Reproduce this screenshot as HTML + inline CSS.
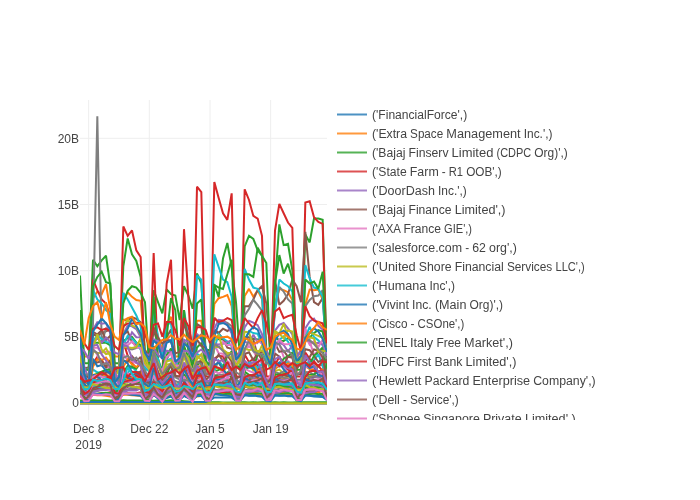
<!DOCTYPE html>
<html><head><meta charset="utf-8"><title>chart</title>
<style>html,body{margin:0;padding:0;background:#fff}svg{display:block}text{font-family:"Liberation Sans",sans-serif;font-size:12px;fill:#444}.l{fill:none;stroke-width:2;stroke-miterlimit:2}</style></head><body>
<svg width="700" height="500" viewBox="0 0 700 500">
<defs><clipPath id="cp"><rect x="80" y="100" width="247" height="320"/></clipPath><clipPath id="lg"><rect x="332" y="100" width="300" height="320"/></clipPath></defs>
<rect width="700" height="500" fill="#fff"/>
<path d="M88.67,100V420" stroke="#eee" stroke-width="1" fill="none"/>
<path d="M149.33,100V420" stroke="#eee" stroke-width="1" fill="none"/>
<path d="M210.00,100V420" stroke="#eee" stroke-width="1" fill="none"/>
<path d="M270.67,100V420" stroke="#eee" stroke-width="1" fill="none"/>
<path d="M80,336.90H327" stroke="#eee" stroke-width="1" fill="none"/>
<path d="M80,270.70H327" stroke="#eee" stroke-width="1" fill="none"/>
<path d="M80,204.50H327" stroke="#eee" stroke-width="1" fill="none"/>
<path d="M80,138.30H327" stroke="#eee" stroke-width="1" fill="none"/>
<path d="M80,403.10H327" stroke="#444" stroke-width="1" fill="none"/>
<g clip-path="url(#cp)">
<polyline class="l" stroke="#ff7f0e" points="80.00,330.01 84.33,356.56 88.67,356.56 93.00,298.17 97.33,291.53 101.67,294.19 106.00,284.23 110.33,310.11 114.67,356.56 119.00,356.56 123.33,299.49 127.67,292.20 132.00,296.84 136.33,300.02 140.67,300.82 145.00,349.92 149.33,356.56 153.67,316.75 158.00,336.65 162.33,349.92 166.67,323.38 171.00,316.75 175.33,356.56 179.67,356.56 184.00,316.75 188.33,336.65 192.67,349.92 197.00,320.73 201.33,320.73 205.67,356.56 210.00,356.56 214.33,304.01 218.67,298.17 223.00,296.84 227.33,294.98 231.67,306.13 236.00,352.57 240.33,355.23 244.67,296.04 249.00,288.88 253.33,296.84 257.67,290.20 262.00,298.96 266.33,352.57 270.67,355.23 275.00,303.48 279.33,288.88 283.67,290.20 288.00,292.20 292.33,300.02 296.67,352.57 301.00,355.23 305.33,304.80 309.67,289.54 314.00,290.20 318.33,289.54 322.67,299.49 327.00,334.00"/>
<polyline class="l" stroke="#2ca02c" points="80.00,275.61 84.33,363.19 88.67,363.19 93.00,259.68 97.33,266.32 101.67,260.35 106.00,255.70 110.33,286.22 114.67,363.19 119.00,363.19 123.33,266.32 127.67,238.45 132.00,254.38 136.33,261.01 140.67,276.94 145.00,356.56 149.33,356.56 153.67,290.20 158.00,302.15 162.33,313.43 166.67,289.54 171.00,294.19 175.33,295.51 179.67,320.06 184.00,286.22 188.33,295.51 192.67,308.78 197.00,273.48 201.33,283.57 205.67,349.92 210.00,349.92 214.33,284.90 218.67,296.84 223.00,258.36 227.33,242.96 231.67,267.65 236.00,302.15 240.33,363.19 244.67,246.41 249.00,235.80 253.33,238.98 257.67,250.40 262.00,255.70 266.33,349.92 270.67,363.19 275.00,283.57 279.33,224.39 283.67,245.09 288.00,243.76 292.33,270.30 296.67,363.19 301.00,363.19 305.33,234.47 309.67,242.43 314.00,218.55 318.33,218.55 322.67,219.87 327.00,363.19"/>
<polyline class="l" stroke="#d62728" points="80.00,331.34 84.33,376.46 88.67,376.46 93.00,279.59 97.33,290.20 101.67,299.49 106.00,303.48 110.33,316.75 114.67,376.46 119.00,376.46 123.33,226.51 127.67,235.80 132.00,230.49 136.33,250.40 140.67,257.03 145.00,376.46 149.33,376.46 153.67,253.05 158.00,363.19 162.33,373.81 166.67,283.57 171.00,259.68 175.33,376.46 179.67,376.46 184.00,229.16 188.33,296.84 192.67,376.46 197.00,186.70 201.33,192.01 205.67,376.46 210.00,376.46 214.33,182.05 218.67,197.98 223.00,213.24 227.33,219.87 231.67,193.33 236.00,376.46 240.33,376.46 244.67,189.35 249.00,199.97 253.33,215.89 257.67,218.55 262.00,235.80 266.33,376.46 270.67,376.46 275.00,230.49 279.33,203.95 283.67,213.24 288.00,222.53 292.33,227.84 296.67,376.46 301.00,376.46 305.33,202.62 309.67,201.30 314.00,217.22 318.33,221.86 322.67,223.86 327.00,376.46"/>
<polyline class="l" stroke="#8c564b" points="80.00,339.90 84.33,368.31 88.67,367.47 93.00,334.11 97.33,336.41 101.67,332.85 106.00,331.32 110.33,329.58 114.67,367.02 119.00,367.14 123.33,319.77 127.67,320.52 132.00,317.09 136.33,318.87 140.67,322.38 145.00,363.95 149.33,359.46 153.67,330.73 158.00,343.36 162.33,357.45 166.67,337.33 171.00,329.46 175.33,363.74 179.67,363.29 184.00,322.32 188.33,335.36 192.67,349.75 197.00,324.18 201.33,326.62 205.67,362.75 210.00,366.08 214.33,329.20 218.67,333.07 223.00,328.68 227.33,331.00 231.67,328.05 236.00,353.43 240.33,359.29 244.67,306.13 249.00,306.13 253.33,299.49 257.67,290.20 262.00,286.22 266.33,303.48 270.67,356.56 275.00,279.59 279.33,304.80 283.67,300.82 288.00,294.19 292.33,279.59 296.67,286.22 301.00,302.15 305.33,231.82 309.67,276.94 314.00,302.15 318.33,304.80 322.67,298.17 327.00,356.56"/>
<polyline class="l" stroke="#7f7f7f" points="80.00,352.29 84.33,379.09 88.67,377.56 93.00,323.38 97.33,116.37 101.67,343.29 106.00,328.40 110.33,328.53 114.67,376.96 119.00,377.04 123.33,346.86 127.67,348.60 132.00,349.53 136.33,348.15 140.67,345.95 145.00,379.92 149.33,380.39 153.67,351.00 158.00,361.40 162.33,373.32 166.67,359.16 171.00,351.56 175.33,377.42 179.67,379.43 184.00,340.81 188.33,348.62 192.67,366.55 197.00,338.21 201.33,334.33 205.67,375.13 210.00,370.96 214.33,317.72 218.67,322.82 223.00,320.98 227.33,322.98 231.67,326.20 236.00,368.12 240.33,367.44 244.67,315.42 249.00,308.78 253.33,299.76 257.67,304.80 262.00,310.77 266.33,360.56 270.67,360.03 275.00,310.11 279.33,286.89 283.67,291.53 288.00,299.49 292.33,303.48 296.67,356.22 301.00,360.71 305.33,306.13 309.67,300.02 314.00,296.18 318.33,295.51 322.67,290.20 327.00,354.87"/>
<polyline class="l" stroke="#17becf" points="80.00,336.65 84.33,369.82 88.67,369.82 93.00,290.20 97.33,299.49 101.67,303.48 106.00,310.11 110.33,314.09 114.67,369.82 119.00,369.82 123.33,292.86 127.67,299.49 132.00,307.46 136.33,315.42 140.67,326.03 145.00,369.82 149.33,369.82 153.67,310.11 158.00,336.65 162.33,356.56 166.67,323.38 171.00,323.38 175.33,363.19 179.67,363.19 184.00,310.11 188.33,336.65 192.67,356.56 197.00,275.61 201.33,279.59 205.67,363.19 210.00,363.19 214.33,254.38 218.67,266.98 223.00,279.59 227.33,282.24 231.67,296.84 236.00,363.19 240.33,363.19 244.67,268.97 249.00,279.59 253.33,287.55 257.67,288.88 262.00,296.84 266.33,363.19 270.67,363.19 275.00,310.11 279.33,279.59 283.67,283.57 288.00,286.22 292.33,291.53 296.67,363.19 301.00,363.19 305.33,264.99 309.67,278.26 314.00,287.55 318.33,288.88 322.67,296.84 327.00,363.19"/>
<polyline class="l" stroke="#2ca02c" points="80.00,310.11 84.33,369.82 88.67,369.82 93.00,286.22 97.33,276.94 101.67,271.63 106.00,282.24 110.33,283.57 114.67,369.82 119.00,369.82 123.33,303.48 127.67,290.87 132.00,286.22 136.33,287.55 140.67,292.86 145.00,302.15 149.33,369.82 153.67,296.84 158.00,363.19 162.33,369.82 166.67,336.65 171.00,298.17 175.33,310.11 179.67,369.82 184.00,310.11 188.33,349.92 192.67,369.82 197.00,303.48 201.33,299.49 205.67,363.19 210.00,363.19 214.33,284.90 218.67,287.55 223.00,288.88 227.33,274.28 231.67,259.68 236.00,363.19 240.33,369.82 244.67,274.28 249.00,274.28 253.33,276.94 257.67,247.74 262.00,255.70 266.33,263.00 270.67,369.82 275.00,283.57 279.33,255.04 283.67,273.48 288.00,263.66 292.33,279.59 296.67,369.82 301.00,369.82 305.33,279.59 309.67,283.57 314.00,281.58 318.33,288.88 322.67,271.63 327.00,369.82"/>
<polyline class="l" stroke="#7f7f7f" points="80.00,403.80 84.33,403.80 88.67,403.80 93.00,403.80 97.33,403.80 101.67,403.80 106.00,403.80 110.33,403.80 114.67,403.80 119.00,403.80 123.33,403.80 127.67,403.80 132.00,403.80 136.33,403.80 140.67,403.80 145.00,403.80 149.33,403.80 153.67,403.80 158.00,403.80 162.33,403.80 166.67,403.80 171.00,403.80 175.33,403.80 179.67,403.80 184.00,403.80 188.33,403.80 192.67,403.80 197.00,403.80 201.33,403.80 205.67,403.80 210.00,403.80 214.33,403.80 218.67,403.80 223.00,403.80 227.33,403.80 231.67,403.80 236.00,403.80 240.33,403.80 244.67,403.80 249.00,403.80 253.33,403.80 257.67,403.80 262.00,403.80 266.33,403.80 270.67,403.80 275.00,403.80 279.33,403.80 283.67,403.80 288.00,403.80 292.33,403.80 296.67,403.80 301.00,403.80 305.33,403.80 309.67,403.80 314.00,403.80 318.33,403.80 322.67,403.80 327.00,403.80"/>
<polyline class="l" stroke="#2ca02c" points="80.00,400.45 84.33,400.40 88.67,400.55 93.00,400.37 97.33,400.51 101.67,400.46 106.00,400.37 110.33,400.50 114.67,400.36 119.00,400.48 123.33,400.37 127.67,400.38 132.00,400.48 136.33,400.60 140.67,400.39 145.00,400.42 149.33,400.54 153.67,400.63 158.00,400.52 162.33,400.47 166.67,400.64 171.00,400.36 175.33,400.61 179.67,400.82 184.00,401.17 188.33,401.56 192.67,401.96 197.00,402.19 201.33,402.23 205.67,402.20 210.00,402.22 214.33,402.33 218.67,402.26 223.00,402.41 227.33,402.39 231.67,402.42 236.00,402.39 240.33,402.34 244.67,402.20 249.00,402.39 253.33,402.34 257.67,402.40 262.00,402.17 266.33,402.30 270.67,402.41 275.00,402.36 279.33,402.39 283.67,402.18 288.00,402.39 292.33,402.43 296.67,402.17 301.00,402.25 305.33,402.34 309.67,402.23 314.00,402.23 318.33,402.37 322.67,402.17 327.00,402.22"/>
<polyline class="l" stroke="#bcbd22" points="80.00,403.27 84.33,403.27 88.67,403.14 93.00,403.15 97.33,403.16 101.67,403.15 106.00,403.22 110.33,403.15 114.67,403.18 119.00,403.13 123.33,403.28 127.67,403.17 132.00,403.19 136.33,403.22 140.67,403.28 145.00,403.18 149.33,403.28 153.67,403.20 158.00,403.21 162.33,403.20 166.67,403.10 171.00,403.19 175.33,403.14 179.67,403.10 184.00,403.26 188.33,403.13 192.67,403.19 197.00,403.25 201.33,403.21 205.67,403.17 210.00,403.20 214.33,403.21 218.67,403.26 223.00,403.12 227.33,403.21 231.67,403.15 236.00,403.16 240.33,403.25 244.67,403.20 249.00,403.21 253.33,403.25 257.67,403.28 262.00,403.19 266.33,403.22 270.67,403.20 275.00,403.20 279.33,403.24 283.67,403.19 288.00,403.21 292.33,403.20 296.67,403.29 301.00,403.24 305.33,403.28 309.67,403.29 314.00,403.15 318.33,403.21 322.67,403.29 327.00,403.27"/>
<polyline class="l" stroke="#1f77b4" points="80.00,402.06 84.33,402.02 88.67,402.09 93.00,401.96 97.33,402.05 101.67,402.02 106.00,402.02 110.33,401.99 114.67,402.08 119.00,402.11 123.33,401.99 127.67,402.04 132.00,401.89 136.33,402.05 140.67,402.04 145.00,402.12 149.33,402.08 153.67,401.95 158.00,401.97 162.33,402.04 166.67,401.89 171.00,401.99 175.33,401.92 179.67,401.91 184.00,401.89 188.33,402.06 192.67,401.91 197.00,401.94 201.33,401.97 205.67,402.09 210.00,400.46 214.33,397.50 218.67,397.53 223.00,397.45 227.33,397.38 231.67,397.56 236.00,400.53 240.33,400.55 244.67,395.24 249.00,395.43 253.33,395.38 257.67,395.12 262.00,395.32 266.33,399.64 270.67,399.57 275.00,395.13 279.33,395.56 283.67,395.29 288.00,395.28 292.33,395.29 296.67,399.45 301.00,399.59 305.33,395.48 309.67,395.29 314.00,395.39 318.33,395.14 322.67,395.12 327.00,399.46"/>
<polyline class="l" stroke="#bcbd22" points="80.00,374.59 84.33,390.43 88.67,392.90 93.00,375.54 97.33,372.57 101.67,374.98 106.00,375.97 110.33,375.08 114.67,386.65 119.00,390.88 123.33,378.19 127.67,373.35 132.00,378.51 136.33,379.52 140.67,372.83 145.00,386.07 149.33,391.77 153.67,375.46 158.00,384.32 162.33,391.74 166.67,383.64 171.00,378.20 175.33,386.21 179.67,390.69 184.00,378.04 188.33,381.63 192.67,386.99 197.00,373.28 201.33,370.75 205.67,383.22 210.00,389.92 214.33,368.95 218.67,367.81 223.00,372.31 227.33,365.90 231.67,370.77 236.00,388.03 240.33,389.42 244.67,368.61 249.00,363.30 253.33,370.51 257.67,368.45 262.00,370.10 266.33,384.39 270.67,390.32 275.00,371.13 279.33,369.55 283.67,373.41 288.00,367.51 292.33,367.29 296.67,383.92 301.00,389.77 305.33,364.82 309.67,369.15 314.00,366.41 318.33,366.09 322.67,363.77 327.00,382.36"/>
<polyline class="l" stroke="#7f7f7f" points="80.00,371.16 84.33,389.86 88.67,388.81 93.00,378.32 97.33,379.91 101.67,374.20 106.00,378.26 110.33,376.55 114.67,391.00 119.00,392.39 123.33,379.02 127.67,380.54 132.00,375.53 136.33,376.64 140.67,371.69 145.00,390.14 149.33,387.82 153.67,380.55 158.00,386.11 162.33,389.27 166.67,380.51 171.00,377.89 175.33,393.09 179.67,387.78 184.00,381.68 188.33,385.47 192.67,388.25 197.00,379.06 201.33,373.69 205.67,390.81 210.00,388.59 214.33,375.51 218.67,374.79 223.00,374.69 227.33,373.47 231.67,367.16 236.00,390.47 240.33,386.06 244.67,374.35 249.00,377.89 253.33,374.42 257.67,369.99 262.00,367.28 266.33,388.54 270.67,388.46 275.00,372.15 279.33,373.52 283.67,371.34 288.00,366.93 292.33,368.31 296.67,384.43 301.00,390.63 305.33,372.08 309.67,372.14 314.00,374.91 318.33,365.29 322.67,365.16 327.00,385.30"/>
<polyline class="l" stroke="#d62728" points="80.00,383.11 84.33,394.04 88.67,397.22 93.00,387.85 97.33,386.77 101.67,384.85 106.00,384.79 110.33,386.75 114.67,393.80 119.00,394.32 123.33,386.80 127.67,387.12 132.00,385.23 136.33,381.66 140.67,384.70 145.00,397.54 149.33,397.64 153.67,391.06 158.00,394.66 162.33,395.67 166.67,390.30 171.00,387.82 175.33,394.42 179.67,393.07 184.00,389.81 188.33,392.99 192.67,395.57 197.00,384.11 201.33,381.27 205.67,396.48 210.00,393.21 214.33,386.50 218.67,383.53 223.00,382.77 227.33,383.85 231.67,381.72 236.00,396.68 240.33,396.77 244.67,386.99 249.00,386.90 253.33,384.91 257.67,385.18 262.00,380.31 266.33,392.66 270.67,393.80 275.00,384.61 279.33,384.00 283.67,386.37 288.00,380.35 292.33,380.55 296.67,395.73 301.00,397.12 305.33,385.32 309.67,384.28 314.00,383.40 318.33,382.28 322.67,379.85 327.00,393.74"/>
<polyline class="l" stroke="#1f77b4" points="80.00,388.81 84.33,397.96 88.67,399.20 93.00,386.33 97.33,385.49 101.67,388.11 106.00,387.61 110.33,387.07 114.67,397.44 119.00,399.30 123.33,386.70 127.67,387.55 132.00,388.12 136.33,387.14 140.67,387.41 145.00,398.03 149.33,397.69 153.67,388.29 158.00,394.31 162.33,397.25 166.67,393.08 171.00,389.41 175.33,398.73 179.67,398.70 184.00,386.73 188.33,393.46 192.67,397.89 197.00,388.22 201.33,387.60 205.67,397.83 210.00,398.49 214.33,385.71 218.67,384.22 223.00,385.35 227.33,387.61 231.67,385.58 236.00,397.58 240.33,397.01 244.67,383.46 249.00,384.51 253.33,384.41 257.67,386.31 262.00,386.56 266.33,398.47 270.67,396.82 275.00,386.14 279.33,385.34 283.67,386.42 288.00,384.98 292.33,385.96 296.67,398.57 301.00,398.50 305.33,382.47 309.67,383.21 314.00,383.53 318.33,385.53 322.67,384.82 327.00,397.18"/>
<polyline class="l" stroke="#ff7f0e" points="80.00,388.64 84.33,399.41 88.67,399.59 93.00,385.50 97.33,386.20 101.67,387.41 106.00,387.61 110.33,386.97 114.67,394.99 119.00,394.79 123.33,385.57 127.67,385.72 132.00,385.39 136.33,387.55 140.67,387.06 145.00,399.59 149.33,394.60 153.67,387.78 158.00,395.22 162.33,398.20 166.67,393.15 171.00,388.37 175.33,399.66 179.67,399.49 184.00,387.33 188.33,393.79 192.67,397.60 197.00,388.13 201.33,388.74 205.67,393.65 210.00,394.28 214.33,381.10 218.67,385.49 223.00,385.55 227.33,385.49 231.67,387.04 236.00,399.05 240.33,398.88 244.67,381.82 249.00,383.57 253.33,384.65 257.67,383.70 262.00,384.32 266.33,393.74 270.67,393.87 275.00,383.94 279.33,383.35 283.67,384.11 288.00,383.79 292.33,384.01 296.67,399.23 301.00,393.13 305.33,382.14 309.67,383.46 314.00,383.39 318.33,382.64 322.67,384.56 327.00,398.89"/>
<polyline class="l" stroke="#2ca02c" points="80.00,380.70 84.33,396.76 88.67,396.19 93.00,380.20 97.33,382.59 101.67,381.93 106.00,378.84 110.33,378.57 114.67,399.80 119.00,395.04 123.33,380.25 127.67,379.63 132.00,378.35 136.33,379.33 140.67,380.01 145.00,399.50 149.33,395.36 153.67,384.33 158.00,391.36 162.33,397.50 166.67,386.45 171.00,383.54 175.33,398.87 179.67,398.91 184.00,381.99 188.33,390.12 192.67,396.40 197.00,381.51 201.33,377.85 205.67,394.43 210.00,395.52 214.33,375.82 218.67,376.80 223.00,377.53 227.33,372.56 231.67,377.75 236.00,398.38 240.33,394.70 244.67,371.72 249.00,374.83 253.33,375.52 257.67,373.15 262.00,375.39 266.33,399.02 270.67,398.65 275.00,374.45 279.33,374.51 283.67,374.14 288.00,373.24 292.33,371.16 296.67,394.85 301.00,398.51 305.33,374.69 309.67,375.11 314.00,374.56 318.33,371.74 322.67,374.36 327.00,393.62"/>
<polyline class="l" stroke="#d62728" points="80.00,393.20 84.33,398.38 88.67,398.13 93.00,394.47 97.33,394.06 101.67,393.02 106.00,393.16 110.33,392.08 114.67,400.34 119.00,398.04 123.33,394.32 127.67,393.29 132.00,393.39 136.33,393.17 140.67,392.27 145.00,400.18 149.33,400.37 153.67,394.90 158.00,397.69 162.33,399.33 166.67,395.63 171.00,392.61 175.33,397.72 179.67,397.74 184.00,395.52 188.33,397.35 192.67,399.26 197.00,393.30 201.33,392.17 205.67,400.04 210.00,397.45 214.33,393.49 218.67,393.02 223.00,392.38 227.33,392.62 231.67,391.28 236.00,399.90 240.33,399.88 244.67,393.82 249.00,392.60 253.33,392.05 257.67,391.65 262.00,390.42 266.33,397.40 270.67,397.23 275.00,392.85 279.33,392.65 283.67,391.64 288.00,391.13 292.33,390.23 296.67,399.90 301.00,399.77 305.33,392.57 309.67,391.98 314.00,391.34 318.33,391.50 322.67,389.39 327.00,396.63"/>
<polyline class="l" stroke="#9467bd" points="80.00,339.93 84.33,366.70 88.67,379.43 93.00,329.54 97.33,322.24 101.67,323.73 106.00,323.03 110.33,333.42 114.67,376.05 119.00,367.46 123.33,333.73 127.67,325.55 132.00,326.34 136.33,329.11 140.67,337.31 145.00,352.40 149.33,361.46 153.67,339.16 158.00,341.32 162.33,351.64 166.67,339.74 171.00,340.06 175.33,361.45 179.67,359.45 184.00,339.72 188.33,341.95 192.67,353.49 197.00,333.83 201.33,339.05 205.67,351.49 210.00,363.28 214.33,328.20 218.67,319.82 223.00,320.42 227.33,325.28 231.67,333.51 236.00,359.56 240.33,350.37 244.67,327.39 249.00,320.76 253.33,322.69 257.67,325.16 262.00,334.11 266.33,348.70 270.67,363.57 275.00,330.63 279.33,324.90 283.67,323.00 288.00,328.38 292.33,334.33 296.67,357.50 301.00,349.53 305.33,328.30 309.67,321.44 314.00,318.71 318.33,325.84 322.67,329.62 327.00,348.01"/>
<polyline class="l" stroke="#e377c2" points="80.00,386.42 84.33,399.37 88.67,399.86 93.00,389.11 97.33,388.32 101.67,387.09 106.00,388.65 110.33,386.61 114.67,398.67 119.00,400.19 123.33,389.70 127.67,388.02 132.00,387.62 136.33,388.10 140.67,387.60 145.00,398.69 149.33,400.07 153.67,390.96 158.00,396.15 162.33,399.02 166.67,394.09 171.00,390.33 175.33,398.58 179.67,398.79 184.00,392.51 188.33,396.27 192.67,398.67 197.00,391.03 201.33,389.10 205.67,400.09 210.00,399.33 214.33,391.07 218.67,389.45 223.00,389.28 227.33,389.87 231.67,389.34 236.00,400.15 240.33,400.25 244.67,391.54 249.00,389.50 253.33,389.83 257.67,388.95 262.00,388.58 266.33,398.89 270.67,398.83 275.00,389.35 279.33,391.20 283.67,390.11 288.00,390.23 292.33,388.02 296.67,399.95 301.00,399.73 305.33,391.17 309.67,390.38 314.00,389.94 318.33,389.81 322.67,391.37 327.00,400.12"/>
<polyline class="l" stroke="#17becf" points="80.00,389.07 84.33,399.10 88.67,399.24 93.00,385.26 97.33,386.71 101.67,387.58 106.00,387.87 110.33,388.51 114.67,396.13 119.00,399.01 123.33,386.03 127.67,385.10 132.00,387.50 136.33,387.51 140.67,389.27 145.00,395.71 149.33,398.74 153.67,388.64 158.00,394.51 162.33,397.73 166.67,393.05 171.00,391.21 175.33,395.31 179.67,398.98 184.00,388.65 188.33,393.39 192.67,398.06 197.00,388.98 201.33,389.79 205.67,395.71 210.00,398.78 214.33,384.89 218.67,386.63 223.00,387.65 227.33,387.02 231.67,388.17 236.00,395.87 240.33,398.79 244.67,384.47 249.00,385.30 253.33,387.80 257.67,387.62 262.00,387.93 266.33,395.42 270.67,395.37 275.00,386.08 279.33,385.39 283.67,386.13 288.00,385.98 292.33,388.69 296.67,398.87 301.00,395.50 305.33,383.85 309.67,385.57 314.00,385.59 318.33,387.56 322.67,387.94 327.00,398.86"/>
<polyline class="l" stroke="#2ca02c" points="80.00,340.96 84.33,375.67 88.67,382.45 93.00,342.66 97.33,342.68 101.67,342.97 106.00,342.55 110.33,345.29 114.67,381.39 119.00,377.43 123.33,341.06 127.67,338.13 132.00,336.96 136.33,342.57 140.67,345.11 145.00,361.00 149.33,369.72 153.67,346.17 158.00,358.89 162.33,372.64 166.67,354.90 171.00,348.50 175.33,368.84 179.67,363.64 184.00,345.85 188.33,357.59 192.67,370.39 197.00,347.44 201.33,342.94 205.67,359.59 210.00,368.36 214.33,337.10 218.67,339.29 223.00,339.14 227.33,342.98 231.67,340.28 236.00,363.07 240.33,361.28 244.67,337.21 249.00,340.05 253.33,338.53 257.67,339.56 262.00,338.89 266.33,355.48 270.67,366.50 275.00,336.31 279.33,340.80 283.67,341.08 288.00,337.95 292.33,341.34 296.67,362.65 301.00,356.31 305.33,331.49 309.67,337.67 314.00,332.95 318.33,330.10 322.67,331.52 327.00,353.68"/>
<polyline class="l" stroke="#d62728" points="80.00,366.63 84.33,374.47 88.67,384.15 93.00,363.46 97.33,356.91 101.67,359.88 106.00,366.98 110.33,367.10 114.67,372.77 119.00,381.53 123.33,341.84 127.67,355.49 132.00,363.28 136.33,367.82 140.67,363.92 145.00,375.96 149.33,374.61 153.67,354.02 158.00,373.01 162.33,381.41 166.67,373.53 171.00,377.56 175.33,384.54 179.67,383.28 184.00,364.12 188.33,376.67 192.67,381.18 197.00,369.48 201.33,369.74 205.67,380.07 210.00,384.74 214.33,358.67 218.67,355.84 223.00,356.47 227.33,367.66 231.67,367.60 236.00,378.36 240.33,385.53 244.67,354.42 249.00,362.13 253.33,359.05 257.67,366.06 262.00,374.43 266.33,379.86 270.67,378.24 275.00,365.37 279.33,356.50 283.67,365.60 288.00,369.69 292.33,371.49 296.67,386.37 301.00,383.91 305.33,352.63 309.67,358.83 314.00,363.24 318.33,365.85 322.67,371.03 327.00,378.09"/>
<polyline class="l" stroke="#bcbd22" points="80.00,381.19 84.33,386.42 88.67,385.68 93.00,383.18 97.33,384.11 101.67,381.57 106.00,382.73 110.33,380.95 114.67,386.49 119.00,385.22 123.33,382.97 127.67,382.77 132.00,381.06 136.33,380.06 140.67,380.48 145.00,384.85 149.33,384.83 153.67,381.59 158.00,384.45 162.33,384.19 166.67,382.83 171.00,380.30 175.33,383.26 179.67,383.79 184.00,381.91 188.33,382.42 192.67,383.72 197.00,380.37 201.33,377.94 205.67,383.42 210.00,381.85 214.33,380.89 218.67,379.43 223.00,379.05 227.33,378.95 231.67,378.86 236.00,383.02 240.33,381.86 244.67,379.97 249.00,379.31 253.33,379.40 257.67,379.01 262.00,377.42 266.33,383.61 270.67,382.02 275.00,379.98 279.33,379.32 283.67,377.68 288.00,376.86 292.33,376.67 296.67,382.16 301.00,381.27 305.33,380.28 309.67,375.96 314.00,376.99 318.33,377.58 322.67,375.90 327.00,380.07"/>
<polyline class="l" stroke="#17becf" points="80.00,380.16 84.33,393.75 88.67,394.36 93.00,374.96 97.33,376.23 101.67,377.35 106.00,377.52 110.33,376.96 114.67,393.35 119.00,394.97 123.33,374.59 127.67,380.76 132.00,380.08 136.33,381.04 140.67,382.56 145.00,393.61 149.33,395.39 153.67,380.45 158.00,388.17 162.33,392.23 166.67,388.82 171.00,383.82 175.33,392.80 179.67,394.72 184.00,378.01 188.33,387.75 192.67,392.69 197.00,384.19 201.33,385.04 205.67,392.56 210.00,395.02 214.33,380.18 218.67,379.33 223.00,379.17 227.33,382.83 231.67,382.33 236.00,394.59 240.33,395.12 244.67,378.32 249.00,380.25 253.33,381.61 257.67,382.56 262.00,381.77 266.33,393.30 270.67,396.69 275.00,381.29 279.33,381.05 283.67,381.88 288.00,384.49 292.33,383.10 296.67,392.83 301.00,396.46 305.33,382.03 309.67,381.34 314.00,381.08 318.33,382.66 322.67,384.72 327.00,394.36"/>
<polyline class="l" stroke="#ff7f0e" points="80.00,376.19 84.33,393.00 88.67,392.93 93.00,379.65 97.33,374.45 101.67,375.58 106.00,374.70 110.33,377.67 114.67,390.88 119.00,390.70 123.33,376.52 127.67,379.11 132.00,377.91 136.33,378.89 140.67,376.09 145.00,393.54 149.33,391.75 153.67,381.37 158.00,387.99 162.33,391.34 166.67,383.82 171.00,380.13 175.33,394.42 179.67,394.34 184.00,382.67 188.33,387.77 192.67,392.43 197.00,378.05 201.33,377.96 205.67,391.86 210.00,390.42 214.33,378.38 218.67,378.85 223.00,379.34 227.33,380.27 231.67,378.81 236.00,393.93 240.33,394.67 244.67,381.45 249.00,379.31 253.33,378.78 257.67,377.89 262.00,377.37 266.33,391.03 270.67,392.28 275.00,379.48 279.33,381.17 283.67,378.85 288.00,378.98 292.33,378.46 296.67,394.33 301.00,392.11 305.33,379.90 309.67,379.70 314.00,380.05 318.33,380.40 322.67,380.19 327.00,395.12"/>
<polyline class="l" stroke="#ff7f0e" points="80.00,396.36 84.33,397.23 88.67,397.12 93.00,394.69 97.33,395.28 101.67,395.19 106.00,395.86 110.33,396.56 114.67,397.66 119.00,397.44 123.33,394.50 127.67,394.75 132.00,395.21 136.33,395.52 140.67,396.03 145.00,397.30 149.33,396.70 153.67,393.98 158.00,395.85 162.33,396.97 166.67,396.09 171.00,396.48 175.33,397.65 179.67,396.98 184.00,394.73 188.33,395.34 192.67,397.05 197.00,396.45 201.33,396.03 205.67,395.84 210.00,396.91 214.33,394.15 218.67,394.25 223.00,394.05 227.33,394.51 231.67,395.10 236.00,395.62 240.33,395.88 244.67,393.11 249.00,393.23 253.33,393.17 257.67,393.99 262.00,394.45 266.33,396.76 270.67,396.39 275.00,392.35 279.33,393.38 283.67,393.14 288.00,393.87 292.33,394.21 296.67,395.79 301.00,395.16 305.33,391.71 309.67,393.02 314.00,393.33 318.33,392.57 322.67,394.52 327.00,395.11"/>
<polyline class="l" stroke="#8c564b" points="80.00,387.48 84.33,396.31 88.67,398.28 93.00,389.68 97.33,389.02 101.67,389.20 106.00,388.58 110.33,387.69 114.67,396.67 119.00,397.98 123.33,388.98 127.67,389.90 132.00,389.14 136.33,388.94 140.67,387.57 145.00,396.50 149.33,398.05 153.67,391.83 158.00,395.43 162.33,397.40 166.67,393.93 171.00,389.94 175.33,396.51 179.67,398.67 184.00,391.86 188.33,395.24 192.67,397.43 197.00,390.65 201.33,390.69 205.67,396.94 210.00,398.17 214.33,391.17 218.67,391.06 223.00,390.90 227.33,390.51 231.67,389.33 236.00,396.63 240.33,398.49 244.67,391.07 249.00,389.74 253.33,390.78 257.67,390.54 262.00,389.58 266.33,397.07 270.67,397.46 275.00,392.04 279.33,391.03 283.67,390.72 288.00,391.19 292.33,390.31 296.67,398.87 301.00,398.71 305.33,391.85 309.67,391.52 314.00,391.34 318.33,390.34 322.67,389.84 327.00,397.58"/>
<polyline class="l" stroke="#2ca02c" points="80.00,393.55 84.33,399.61 88.67,399.65 93.00,393.84 97.33,393.80 101.67,393.17 106.00,392.87 110.33,393.18 114.67,400.36 119.00,399.60 123.33,393.17 127.67,394.04 132.00,394.14 136.33,393.98 140.67,393.71 145.00,400.51 149.33,399.58 153.67,394.23 158.00,397.82 162.33,399.54 166.67,396.74 171.00,395.34 175.33,400.53 179.67,399.45 184.00,395.67 188.33,397.71 192.67,399.72 197.00,395.06 201.33,394.14 205.67,400.41 210.00,399.63 214.33,394.23 218.67,393.86 223.00,394.50 227.33,393.72 231.67,393.74 236.00,400.26 240.33,399.49 244.67,393.31 249.00,393.73 253.33,393.74 257.67,393.59 262.00,393.18 266.33,400.38 270.67,399.53 275.00,393.36 279.33,393.77 283.67,393.59 288.00,392.93 292.33,393.93 296.67,400.29 301.00,400.33 305.33,393.65 309.67,394.04 314.00,393.38 318.33,394.27 322.67,393.56 327.00,399.31"/>
<polyline class="l" stroke="#e377c2" points="80.00,367.07 84.33,380.07 88.67,377.93 93.00,348.18 97.33,354.83 101.67,365.75 106.00,362.51 110.33,371.43 114.67,386.03 119.00,380.70 123.33,354.00 127.67,360.48 132.00,361.13 136.33,363.15 140.67,362.81 145.00,379.14 149.33,379.47 153.67,356.86 158.00,373.37 162.33,383.03 166.67,375.76 171.00,372.66 175.33,387.30 179.67,380.59 184.00,350.72 188.33,372.30 192.67,382.99 197.00,363.58 201.33,361.95 205.67,384.67 210.00,379.04 214.33,344.39 218.67,353.20 223.00,353.65 227.33,361.08 231.67,364.40 236.00,382.34 240.33,379.85 244.67,349.88 249.00,346.07 253.33,350.69 257.67,359.09 262.00,363.54 266.33,381.12 270.67,375.26 275.00,341.52 279.33,344.29 283.67,356.95 288.00,360.89 292.33,364.57 296.67,381.14 301.00,380.74 305.33,328.56 309.67,341.39 314.00,354.86 318.33,350.53 322.67,360.61 327.00,374.67"/>
<polyline class="l" stroke="#17becf" points="80.00,375.29 84.33,389.61 88.67,383.80 93.00,369.47 97.33,372.41 101.67,372.37 106.00,371.17 110.33,369.35 114.67,388.56 119.00,391.11 123.33,372.15 127.67,373.37 132.00,366.47 136.33,371.32 140.67,373.80 145.00,381.33 149.33,384.77 153.67,372.47 158.00,382.61 162.33,386.00 166.67,375.80 171.00,376.15 175.33,389.30 179.67,381.46 184.00,374.50 188.33,380.29 192.67,384.35 197.00,374.79 201.33,366.96 205.67,388.19 210.00,388.57 214.33,370.72 218.67,360.58 223.00,366.03 227.33,366.09 231.67,370.30 236.00,378.65 240.33,384.24 244.67,369.30 249.00,362.57 253.33,362.82 257.67,367.90 262.00,363.81 266.33,387.05 270.67,383.89 275.00,362.51 279.33,365.53 283.67,362.55 288.00,362.36 292.33,368.49 296.67,385.75 301.00,382.04 305.33,363.45 309.67,361.56 314.00,360.44 318.33,354.36 322.67,365.36 327.00,383.27"/>
<polyline class="l" stroke="#8c564b" points="80.00,360.76 84.33,374.09 88.67,377.81 93.00,331.74 97.33,334.56 101.67,330.23 106.00,339.92 110.33,335.62 114.67,373.43 119.00,370.45 123.33,334.96 127.67,331.32 132.00,342.04 136.33,345.33 140.67,348.55 145.00,350.54 149.33,356.42 153.67,327.29 158.00,337.66 162.33,343.54 166.67,339.91 171.00,341.86 175.33,353.35 179.67,352.01 184.00,323.92 188.33,334.84 192.67,351.71 197.00,339.57 201.33,346.11 205.67,347.61 210.00,355.96 214.33,331.37 218.67,333.25 223.00,338.97 227.33,347.69 231.67,348.86 236.00,359.68 240.33,355.14 244.67,337.15 249.00,337.33 253.33,339.61 257.67,355.81 262.00,351.02 266.33,358.07 270.67,360.43 275.00,343.50 279.33,351.87 283.67,350.70 288.00,356.86 292.33,356.20 296.67,368.47 301.00,363.48 305.33,349.21 309.67,350.18 314.00,355.59 318.33,362.03 322.67,359.56 327.00,360.64"/>
<polyline class="l" stroke="#9467bd" points="80.00,369.27 84.33,389.55 88.67,394.72 93.00,376.77 97.33,374.49 101.67,372.29 106.00,371.19 110.33,374.08 114.67,391.00 119.00,395.30 123.33,376.99 127.67,375.36 132.00,375.59 136.33,375.11 140.67,371.65 145.00,390.73 149.33,390.37 153.67,380.50 158.00,390.06 162.33,393.09 166.67,382.36 171.00,377.90 175.33,395.20 179.67,394.80 184.00,383.58 188.33,389.54 192.67,392.84 197.00,377.22 201.33,375.28 205.67,392.07 210.00,395.40 214.33,379.97 218.67,381.21 223.00,378.23 227.33,373.68 231.67,373.99 236.00,393.00 240.33,392.60 244.67,381.46 249.00,376.61 253.33,377.10 257.67,376.50 262.00,375.87 266.33,395.45 270.67,391.91 275.00,382.59 279.33,378.99 283.67,380.59 288.00,379.48 292.33,377.31 296.67,395.91 301.00,395.74 305.33,381.31 309.67,381.25 314.00,376.96 318.33,377.57 322.67,376.23 327.00,392.74"/>
<polyline class="l" stroke="#8c564b" points="80.00,370.84 84.33,397.47 88.67,393.66 93.00,376.86 97.33,377.08 101.67,374.86 106.00,372.71 110.33,371.73 114.67,397.06 119.00,397.73 123.33,376.80 127.67,375.75 132.00,376.21 136.33,372.89 140.67,371.63 145.00,394.30 149.33,394.74 153.67,380.54 158.00,391.40 162.33,395.69 166.67,383.36 171.00,375.55 175.33,397.55 179.67,394.93 184.00,381.06 188.33,390.93 192.67,395.69 197.00,376.51 201.33,373.45 205.67,397.92 210.00,395.61 214.33,376.80 218.67,377.01 223.00,377.06 227.33,374.29 231.67,371.54 236.00,398.44 240.33,394.47 244.67,378.12 249.00,380.39 253.33,375.16 257.67,377.45 262.00,371.69 266.33,397.70 270.67,394.14 275.00,380.19 279.33,378.05 283.67,375.24 288.00,376.23 292.33,375.01 296.67,397.99 301.00,395.23 305.33,381.15 309.67,377.86 314.00,376.39 318.33,375.67 322.67,371.90 327.00,398.07"/>
<polyline class="l" stroke="#7f7f7f" points="80.00,389.73 84.33,399.71 88.67,399.64 93.00,391.09 97.33,391.15 101.67,388.99 106.00,388.77 110.33,388.71 114.67,398.39 119.00,399.86 123.33,390.49 127.67,390.05 132.00,388.37 136.33,388.50 140.67,388.52 145.00,398.08 149.33,398.24 153.67,392.00 158.00,396.30 162.33,398.01 166.67,393.72 171.00,390.62 175.33,399.51 179.67,399.60 184.00,391.96 188.33,395.50 192.67,398.37 197.00,391.20 201.33,389.64 205.67,398.54 210.00,398.02 214.33,389.64 218.67,390.59 223.00,388.33 227.33,387.39 231.67,387.60 236.00,399.32 240.33,397.83 244.67,390.72 249.00,388.77 253.33,387.78 257.67,386.58 262.00,387.15 266.33,399.53 270.67,397.90 275.00,389.89 279.33,388.76 283.67,387.41 288.00,388.06 292.33,385.79 296.67,399.06 301.00,397.76 305.33,388.78 309.67,388.66 314.00,387.42 318.33,386.90 322.67,386.95 327.00,399.12"/>
<polyline class="l" stroke="#17becf" points="80.00,348.33 84.33,374.86 88.67,384.25 93.00,340.88 97.33,335.62 101.67,338.85 106.00,341.89 110.33,342.65 114.67,381.62 119.00,378.09 123.33,345.16 127.67,335.81 132.00,338.79 136.33,342.99 140.67,349.58 145.00,365.00 149.33,372.16 153.67,353.00 158.00,358.77 162.33,374.73 166.67,360.74 171.00,358.59 175.33,370.69 179.67,368.11 184.00,353.26 188.33,358.24 192.67,374.99 197.00,353.92 201.33,356.44 205.67,363.42 210.00,369.13 214.33,348.92 218.67,334.08 223.00,338.27 227.33,341.53 231.67,346.38 236.00,362.65 240.33,359.47 244.67,340.06 249.00,330.96 253.33,333.03 257.67,333.75 262.00,344.16 266.33,360.16 270.67,369.28 275.00,348.21 279.33,339.84 283.67,336.50 288.00,341.63 292.33,349.37 296.67,362.93 301.00,361.57 305.33,337.80 309.67,326.79 314.00,337.02 318.33,340.35 322.67,345.44 327.00,354.17"/>
<polyline class="l" stroke="#1f77b4" points="80.00,380.21 84.33,394.00 88.67,394.73 93.00,374.89 97.33,375.55 101.67,380.87 106.00,380.08 110.33,377.60 114.67,392.14 119.00,394.69 123.33,374.73 127.67,377.73 132.00,379.49 136.33,379.62 140.67,381.87 145.00,393.67 149.33,394.48 153.67,378.68 158.00,387.90 162.33,393.06 166.67,385.38 171.00,385.24 175.33,393.17 179.67,395.27 184.00,380.85 188.33,386.57 192.67,392.21 197.00,383.35 201.33,383.74 205.67,393.36 210.00,391.98 214.33,378.25 218.67,379.61 223.00,379.70 227.33,380.39 231.67,382.51 236.00,395.07 240.33,395.50 244.67,377.58 249.00,381.17 253.33,380.35 257.67,383.42 262.00,383.37 266.33,392.56 270.67,395.87 275.00,377.89 279.33,381.87 283.67,382.90 288.00,381.98 292.33,385.44 296.67,393.28 301.00,394.73 305.33,378.98 309.67,380.95 314.00,381.24 318.33,384.87 322.67,383.49 327.00,396.20"/>
<polyline class="l" stroke="#2ca02c" points="80.00,368.04 84.33,390.38 88.67,389.16 93.00,378.02 97.33,373.89 101.67,371.74 106.00,369.65 110.33,369.33 114.67,393.38 119.00,388.82 123.33,372.67 127.67,365.78 132.00,366.79 136.33,368.68 140.67,360.99 145.00,392.63 149.33,386.40 153.67,378.11 158.00,385.69 162.33,387.51 166.67,375.18 171.00,363.70 175.33,391.58 179.67,391.85 184.00,374.29 188.33,381.55 192.67,390.83 197.00,365.69 201.33,360.63 205.67,385.29 210.00,392.21 214.33,371.88 218.67,369.84 223.00,367.20 227.33,355.98 231.67,351.50 236.00,385.31 240.33,384.83 244.67,370.12 249.00,366.54 253.33,368.77 257.67,353.85 262.00,355.00 266.33,391.66 270.67,389.26 275.00,368.48 279.33,365.68 283.67,358.64 288.00,356.22 292.33,352.60 296.67,383.28 301.00,390.59 305.33,364.36 309.67,364.05 314.00,355.88 318.33,351.98 322.67,347.53 327.00,382.25"/>
<polyline class="l" stroke="#9467bd" points="80.00,347.30 84.33,351.21 88.67,358.93 93.00,343.08 97.33,338.09 101.67,342.77 106.00,337.61 110.33,342.09 114.67,352.74 119.00,354.03 123.33,343.70 127.67,342.40 132.00,332.25 136.33,337.25 140.67,337.37 145.00,354.06 149.33,354.96 153.67,348.32 158.00,354.82 162.33,358.49 166.67,350.65 171.00,351.90 175.33,362.87 179.67,360.49 184.00,350.71 188.33,351.41 192.67,358.52 197.00,352.51 201.33,349.50 205.67,354.38 210.00,357.99 214.33,344.14 218.67,344.59 223.00,343.75 227.33,341.90 231.67,340.54 236.00,359.16 240.33,351.98 244.67,341.97 249.00,342.94 253.33,334.64 257.67,342.48 262.00,336.02 266.33,352.92 270.67,357.69 275.00,343.19 279.33,342.46 283.67,344.98 288.00,351.41 292.33,345.62 296.67,355.69 301.00,357.87 305.33,336.39 309.67,342.70 314.00,343.16 318.33,342.87 322.67,344.35 327.00,356.06"/>
<polyline class="l" stroke="#ff7f0e" points="80.00,357.98 84.33,386.74 88.67,389.87 93.00,366.45 97.33,359.44 101.67,360.21 106.00,357.66 110.33,363.40 114.67,386.25 119.00,386.86 123.33,366.81 127.67,359.37 132.00,364.36 136.33,367.12 140.67,363.20 145.00,392.83 149.33,392.50 153.67,368.45 158.00,378.33 162.33,387.30 166.67,377.77 171.00,376.33 175.33,385.61 179.67,392.15 184.00,367.74 188.33,379.63 192.67,390.02 197.00,366.78 201.33,365.94 205.67,386.08 210.00,387.16 214.33,365.92 218.67,362.24 223.00,369.90 227.33,367.21 231.67,370.17 236.00,394.10 240.33,392.04 244.67,364.94 249.00,365.57 253.33,363.34 257.67,372.76 262.00,368.47 266.33,386.66 270.67,385.84 275.00,369.75 279.33,363.87 283.67,366.55 288.00,363.40 292.33,365.09 296.67,392.53 301.00,390.97 305.33,366.48 309.67,368.83 314.00,369.32 318.33,372.16 322.67,369.84 327.00,390.69"/>
<polyline class="l" stroke="#e377c2" points="80.00,378.62 84.33,394.00 88.67,390.04 93.00,376.73 97.33,374.77 101.67,376.71 106.00,378.02 110.33,379.38 114.67,393.21 119.00,392.99 123.33,371.83 127.67,373.42 132.00,375.60 136.33,376.78 140.67,375.23 145.00,388.46 149.33,387.48 153.67,375.49 158.00,387.84 162.33,391.87 166.67,385.33 171.00,380.38 175.33,391.36 179.67,388.79 184.00,376.36 188.33,384.52 192.67,390.59 197.00,380.74 201.33,378.70 205.67,391.39 210.00,392.27 214.33,371.39 218.67,373.44 223.00,371.38 227.33,377.17 231.67,373.35 236.00,386.71 240.33,385.04 244.67,368.64 249.00,370.93 253.33,372.69 257.67,372.55 262.00,379.84 266.33,392.00 270.67,392.76 275.00,364.63 279.33,366.59 283.67,366.67 288.00,373.50 292.33,372.90 296.67,385.52 301.00,382.77 305.33,366.55 309.67,367.64 314.00,367.39 318.33,371.44 322.67,374.92 327.00,391.18"/>
<polyline class="l" stroke="#7f7f7f" points="80.00,385.16 84.33,386.38 88.67,386.21 93.00,381.89 97.33,382.40 101.67,381.02 106.00,384.89 110.33,383.77 114.67,384.41 119.00,386.43 123.33,382.04 127.67,381.68 132.00,383.03 136.33,383.39 140.67,383.52 145.00,384.33 149.33,383.74 153.67,381.24 158.00,382.92 162.33,383.10 166.67,383.87 171.00,383.26 175.33,381.17 179.67,382.59 184.00,379.89 188.33,380.62 192.67,383.15 197.00,380.74 201.33,383.75 205.67,382.06 210.00,383.06 214.33,379.23 218.67,377.01 223.00,380.81 227.33,378.77 231.67,380.80 236.00,379.53 240.33,382.76 244.67,375.81 249.00,376.37 253.33,379.10 257.67,379.95 262.00,378.01 266.33,380.04 270.67,381.40 275.00,377.15 279.33,376.64 283.67,377.67 288.00,378.74 292.33,377.91 296.67,379.78 301.00,379.62 305.33,373.42 309.67,377.57 314.00,375.88 318.33,375.88 322.67,380.60 327.00,379.87"/>
<polyline class="l" stroke="#8c564b" points="80.00,360.50 84.33,382.17 88.67,383.70 93.00,361.98 97.33,362.52 101.67,361.14 106.00,367.41 110.33,360.05 114.67,379.79 119.00,377.84 123.33,360.35 127.67,362.12 132.00,356.06 136.33,361.36 140.67,356.82 145.00,380.73 149.33,383.03 153.67,361.75 158.00,371.66 162.33,380.44 166.67,369.91 171.00,366.26 175.33,375.75 179.67,376.44 184.00,362.92 188.33,370.37 192.67,377.18 197.00,362.29 201.33,360.73 205.67,380.25 210.00,375.76 214.33,360.93 218.67,354.45 223.00,361.00 227.33,355.53 231.67,361.55 236.00,378.32 240.33,376.67 244.67,354.02 249.00,352.24 253.33,360.23 257.67,352.84 262.00,360.28 266.33,383.33 270.67,379.45 275.00,353.52 279.33,356.70 283.67,364.38 288.00,356.74 292.33,357.80 296.67,374.35 301.00,374.09 305.33,360.77 309.67,356.99 314.00,349.53 318.33,350.65 322.67,357.10 327.00,380.88"/>
<polyline class="l" stroke="#2ca02c" points="80.00,382.65 84.33,398.31 88.67,394.35 93.00,383.81 97.33,384.12 101.67,384.76 106.00,382.99 110.33,383.16 114.67,398.38 119.00,398.47 123.33,383.40 127.67,386.66 132.00,382.34 136.33,383.31 140.67,382.74 145.00,395.76 149.33,395.93 153.67,387.41 158.00,394.22 162.33,397.09 166.67,390.69 171.00,387.06 175.33,398.44 179.67,398.49 184.00,387.71 188.33,392.90 192.67,397.07 197.00,387.08 201.33,386.81 205.67,396.14 210.00,398.53 214.33,384.72 218.67,386.83 223.00,385.52 227.33,385.83 231.67,385.91 236.00,396.28 240.33,396.26 244.67,384.88 249.00,385.42 253.33,384.32 257.67,385.73 262.00,386.70 266.33,398.77 270.67,396.41 275.00,385.79 279.33,386.03 283.67,386.41 288.00,386.41 292.33,386.45 296.67,398.74 301.00,396.31 305.33,387.15 309.67,387.11 314.00,385.10 318.33,387.79 322.67,385.77 327.00,399.07"/>
<polyline class="l" stroke="#9467bd" points="80.00,383.91 84.33,391.62 88.67,392.00 93.00,379.08 97.33,380.67 101.67,382.05 106.00,382.93 110.33,385.49 114.67,396.27 119.00,392.66 123.33,380.84 127.67,381.17 132.00,382.35 136.33,384.54 140.67,383.66 145.00,396.37 149.33,392.02 153.67,382.44 158.00,390.58 162.33,395.00 166.67,389.80 171.00,388.20 175.33,396.70 179.67,392.67 184.00,384.72 188.33,390.37 192.67,395.35 197.00,385.05 201.33,385.53 205.67,396.59 210.00,392.28 214.33,380.76 218.67,381.57 223.00,384.95 227.33,385.73 231.67,386.21 236.00,397.05 240.33,396.81 244.67,381.08 249.00,381.72 253.33,383.33 257.67,384.91 262.00,385.02 266.33,392.39 270.67,396.88 275.00,383.01 279.33,382.30 283.67,384.17 288.00,384.66 292.33,385.73 296.67,392.64 301.00,396.76 305.33,381.70 309.67,384.23 314.00,385.29 318.33,385.03 322.67,386.70 327.00,393.25"/>
<polyline class="l" stroke="#e377c2" points="80.00,381.73 84.33,394.12 88.67,398.56 93.00,383.38 97.33,383.69 101.67,380.82 106.00,381.33 110.33,382.05 114.67,395.02 119.00,393.74 123.33,382.56 127.67,381.08 132.00,382.71 136.33,381.68 140.67,379.87 145.00,398.88 149.33,394.71 153.67,387.75 158.00,392.69 162.33,397.13 166.67,387.26 171.00,383.91 175.33,398.41 179.67,398.59 184.00,386.27 188.33,391.64 192.67,397.00 197.00,386.53 201.33,381.13 205.67,393.23 210.00,398.23 214.33,383.95 218.67,381.55 223.00,379.66 227.33,377.84 231.67,379.38 236.00,393.97 240.33,393.15 244.67,382.44 249.00,383.13 253.33,379.88 257.67,380.07 262.00,382.80 266.33,398.32 270.67,398.31 275.00,383.86 279.33,381.89 283.67,381.24 288.00,379.98 292.33,378.39 296.67,391.97 301.00,397.84 305.33,383.05 309.67,382.36 314.00,380.61 318.33,379.52 322.67,378.87 327.00,392.44"/>
<polyline class="l" stroke="#e377c2" points="80.00,348.43 84.33,375.73 88.67,381.98 93.00,347.59 97.33,347.66 101.67,352.54 106.00,351.76 110.33,351.76 114.67,378.95 119.00,375.15 123.33,343.78 127.67,345.34 132.00,341.53 136.33,347.51 140.67,347.64 145.00,364.64 149.33,369.24 153.67,358.24 158.00,366.24 162.33,370.65 166.67,357.05 171.00,353.09 175.33,366.49 179.67,365.23 184.00,354.60 188.33,361.42 192.67,371.51 197.00,356.57 201.33,355.63 205.67,364.72 210.00,368.19 214.33,345.51 218.67,347.29 223.00,341.86 227.33,345.43 231.67,344.28 236.00,361.97 240.33,362.59 244.67,350.36 249.00,342.42 253.33,346.62 257.67,340.78 262.00,343.63 266.33,355.33 270.67,363.32 275.00,348.31 279.33,339.76 283.67,344.01 288.00,344.27 292.33,343.29 296.67,359.61 301.00,355.46 305.33,336.08 309.67,344.59 314.00,341.18 318.33,346.87 322.67,339.63 327.00,353.14"/>
<polyline class="l" stroke="#1f77b4" points="80.00,394.61 84.33,399.20 88.67,400.50 93.00,393.52 97.33,394.00 101.67,394.10 106.00,394.54 110.33,395.00 114.67,399.49 119.00,399.57 123.33,393.47 127.67,394.25 132.00,394.70 136.33,395.25 140.67,395.78 145.00,401.04 149.33,400.85 153.67,394.75 158.00,398.54 162.33,400.18 166.67,397.97 171.00,396.66 175.33,399.92 179.67,399.69 184.00,395.80 188.33,398.19 192.67,400.39 197.00,395.77 201.33,395.99 205.67,400.80 210.00,400.91 214.33,393.90 218.67,394.79 223.00,395.32 227.33,395.71 231.67,396.38 236.00,399.95 240.33,400.20 244.67,394.60 249.00,395.68 253.33,395.44 257.67,396.23 262.00,396.84 266.33,401.09 270.67,401.15 275.00,395.19 279.33,395.70 283.67,395.52 288.00,396.18 292.33,396.32 296.67,400.19 301.00,401.15 305.33,395.32 309.67,395.79 314.00,396.44 318.33,396.79 322.67,397.06 327.00,400.25"/>
<polyline class="l" stroke="#9467bd" points="80.00,388.02 84.33,394.71 88.67,394.23 93.00,392.35 97.33,390.55 101.67,390.31 106.00,390.08 110.33,389.40 114.67,393.59 119.00,394.59 123.33,392.49 127.67,390.59 132.00,390.57 136.33,390.60 140.67,388.23 145.00,394.00 149.33,394.80 153.67,392.20 158.00,394.14 162.33,394.35 166.67,390.91 171.00,389.62 175.33,395.13 179.67,394.42 184.00,392.45 188.33,393.15 192.67,395.23 197.00,390.76 201.33,390.25 205.67,394.39 210.00,394.60 214.33,392.29 218.67,391.82 223.00,390.21 227.33,390.74 231.67,390.23 236.00,394.83 240.33,393.97 244.67,392.72 249.00,392.14 253.33,391.36 257.67,390.72 262.00,390.96 266.33,394.96 270.67,395.35 275.00,392.88 279.33,392.46 283.67,390.58 288.00,391.32 292.33,389.68 296.67,394.59 301.00,394.38 305.33,393.22 309.67,392.32 314.00,392.14 318.33,390.08 322.67,390.12 327.00,395.07"/>
<polyline class="l" stroke="#bcbd22" points="80.00,356.75 84.33,377.53 88.67,381.43 93.00,350.86 97.33,353.11 101.67,352.62 106.00,348.31 110.33,355.96 114.67,378.28 119.00,377.46 123.33,347.06 127.67,347.20 132.00,347.98 136.33,347.04 140.67,338.32 145.00,363.13 149.33,369.26 153.67,351.63 158.00,364.92 162.33,376.46 166.67,361.41 171.00,360.17 175.33,367.36 179.67,370.29 184.00,357.03 188.33,367.51 192.67,372.38 197.00,359.20 201.33,354.09 205.67,365.05 210.00,371.51 214.33,346.92 218.67,346.94 223.00,349.72 227.33,352.79 231.67,353.33 236.00,365.96 240.33,357.59 244.67,348.79 249.00,349.89 253.33,349.60 257.67,350.93 262.00,350.52 266.33,355.19 270.67,358.73 275.00,331.35 279.33,333.54 283.67,338.29 288.00,330.43 292.33,331.46 296.67,360.17 301.00,355.91 305.33,336.82 309.67,332.62 314.00,334.16 318.33,335.83 322.67,337.94 327.00,351.60"/>
<polyline class="l" stroke="#1f77b4" points="80.00,370.93 84.33,383.94 88.67,388.51 93.00,358.84 97.33,366.28 101.67,365.05 106.00,370.80 110.33,373.30 114.67,382.69 119.00,388.48 123.33,360.23 127.67,363.37 132.00,372.70 136.33,372.30 140.67,376.58 145.00,383.91 149.33,387.53 153.67,367.76 158.00,379.98 162.33,385.20 166.67,381.61 171.00,376.06 175.33,384.67 179.67,388.45 184.00,369.10 188.33,378.09 192.67,384.82 197.00,377.06 201.33,368.94 205.67,385.67 210.00,385.14 214.33,365.04 218.67,362.45 223.00,369.31 227.33,374.54 231.67,373.57 236.00,386.88 240.33,382.19 244.67,364.14 249.00,367.67 253.33,366.87 257.67,375.66 262.00,375.35 266.33,388.71 270.67,384.37 275.00,365.70 279.33,362.40 283.67,369.48 288.00,374.23 292.33,379.28 296.67,388.51 301.00,387.89 305.33,363.53 309.67,368.03 314.00,366.19 318.33,375.38 322.67,375.96 327.00,385.57"/>
<polyline class="l" stroke="#bcbd22" points="80.00,355.73 84.33,377.42 88.67,385.40 93.00,348.07 97.33,334.14 101.67,349.74 106.00,354.17 110.33,353.09 114.67,378.04 119.00,368.92 123.33,328.05 127.67,319.07 132.00,325.75 136.33,327.09 140.67,334.60 145.00,354.77 149.33,370.45 153.67,357.63 158.00,362.19 162.33,377.84 166.67,364.70 171.00,363.89 175.33,369.95 179.67,366.91 184.00,352.98 188.33,358.21 192.67,375.01 197.00,356.18 201.33,359.69 205.67,363.16 210.00,374.38 214.33,340.81 218.67,334.84 223.00,349.83 227.33,353.70 231.67,358.77 236.00,366.07 240.33,360.88 244.67,331.72 249.00,332.30 253.33,346.07 257.67,354.87 262.00,345.43 266.33,353.68 270.67,369.01 275.00,332.91 279.33,333.76 283.67,323.60 288.00,336.80 292.33,342.61 296.67,362.26 301.00,362.16 305.33,337.94 309.67,337.30 314.00,338.67 318.33,351.87 322.67,350.80 327.00,351.16"/>
<polyline class="l" stroke="#d62728" points="80.00,377.14 84.33,394.03 88.67,391.34 93.00,382.91 97.33,380.37 101.67,379.94 106.00,378.76 110.33,376.75 114.67,392.74 119.00,393.87 123.33,382.09 127.67,380.86 132.00,379.83 136.33,375.34 140.67,377.79 145.00,391.42 149.33,392.92 153.67,381.97 158.00,387.44 162.33,391.15 166.67,384.10 171.00,378.58 175.33,390.80 179.67,391.39 184.00,382.99 188.33,386.99 192.67,391.20 197.00,375.61 201.33,375.81 205.67,392.21 210.00,391.17 214.33,378.82 218.67,376.93 223.00,376.34 227.33,374.03 231.67,373.08 236.00,391.50 240.33,392.56 244.67,377.74 249.00,375.16 253.33,375.32 257.67,372.48 262.00,371.60 266.33,389.29 270.67,389.77 275.00,377.52 279.33,375.20 283.67,374.47 288.00,373.40 292.33,367.84 296.67,388.47 301.00,389.03 305.33,377.43 309.67,371.23 314.00,370.68 318.33,371.41 322.67,370.55 327.00,390.79"/>
<polyline class="l" stroke="#bcbd22" points="80.00,387.46 84.33,387.29 88.67,387.59 93.00,384.15 97.33,385.18 101.67,386.62 106.00,388.10 110.33,388.26 114.67,387.48 119.00,389.11 123.33,385.13 127.67,385.40 132.00,386.73 136.33,387.12 140.67,388.38 145.00,387.28 149.33,388.39 153.67,385.23 158.00,387.53 162.33,387.45 166.67,388.45 171.00,388.77 175.33,388.13 179.67,388.46 184.00,386.86 188.33,387.65 192.67,388.35 197.00,388.02 201.33,388.98 205.67,388.41 210.00,388.85 214.33,386.31 218.67,387.33 223.00,387.47 227.33,388.16 231.67,389.43 236.00,388.10 240.33,389.19 244.67,386.21 249.00,387.47 253.33,387.40 257.67,388.45 262.00,389.21 266.33,388.44 270.67,388.94 275.00,387.52 279.33,386.76 283.67,388.23 288.00,389.12 292.33,390.16 296.67,389.52 301.00,389.85 305.33,384.91 309.67,387.24 314.00,387.81 318.33,389.13 322.67,389.37 327.00,390.02"/>
<polyline class="l" stroke="#9467bd" points="80.00,363.10 84.33,378.81 88.67,383.69 93.00,345.58 97.33,344.77 101.67,354.44 106.00,360.47 110.33,367.10 114.67,370.60 119.00,384.40 123.33,344.98 127.67,346.58 132.00,358.38 136.33,362.48 140.67,365.60 145.00,381.05 149.33,380.19 153.67,357.11 158.00,376.79 162.33,383.40 166.67,377.43 171.00,370.89 175.33,386.28 179.67,386.36 184.00,362.73 188.33,370.66 192.67,380.37 197.00,365.45 201.33,371.43 205.67,381.09 210.00,380.77 214.33,358.48 218.67,361.31 223.00,360.11 227.33,367.23 231.67,371.79 236.00,385.35 240.33,388.14 244.67,360.83 249.00,365.14 253.33,362.10 257.67,361.76 262.00,372.01 266.33,381.65 270.67,388.91 275.00,359.08 279.33,356.80 283.67,365.68 288.00,368.23 292.33,369.25 296.67,381.34 301.00,386.68 305.33,355.02 309.67,362.35 314.00,365.73 318.33,371.87 322.67,371.29 327.00,384.47"/>
<polyline class="l" stroke="#7f7f7f" points="80.00,367.87 84.33,375.22 88.67,374.35 93.00,350.03 97.33,352.84 101.67,364.68 106.00,363.23 110.33,366.57 114.67,377.76 119.00,380.48 123.33,357.79 127.67,355.84 132.00,360.18 136.33,357.63 140.67,363.68 145.00,370.74 149.33,377.48 153.67,351.99 158.00,364.69 162.33,374.36 166.67,368.35 171.00,363.42 175.33,369.59 179.67,367.59 184.00,353.22 188.33,364.50 192.67,371.53 197.00,361.97 201.33,364.29 205.67,373.82 210.00,374.82 214.33,344.52 218.67,346.66 223.00,350.98 227.33,356.71 231.67,353.33 236.00,372.25 240.33,374.77 244.67,349.02 249.00,340.41 253.33,351.36 257.67,353.72 262.00,354.28 266.33,362.82 270.67,363.22 275.00,342.51 279.33,344.58 283.67,351.90 288.00,350.37 292.33,355.16 296.67,375.64 301.00,370.67 305.33,340.53 309.67,340.15 314.00,344.04 318.33,349.07 322.67,353.14 327.00,358.94"/>
<polyline class="l" stroke="#8c564b" points="80.00,384.25 84.33,399.97 88.67,396.28 93.00,388.21 97.33,386.79 101.67,385.00 106.00,383.61 110.33,384.70 114.67,399.50 119.00,395.97 123.33,388.25 127.67,385.13 132.00,385.12 136.33,383.82 140.67,384.73 145.00,399.23 149.33,395.36 153.67,387.58 158.00,394.62 162.33,397.26 166.67,389.79 171.00,385.44 175.33,399.08 179.67,394.76 184.00,388.62 188.33,392.66 192.67,397.32 197.00,383.56 201.33,380.84 205.67,398.44 210.00,398.99 214.33,385.04 218.67,382.87 223.00,382.25 227.33,383.51 231.67,377.17 236.00,394.19 240.33,395.10 244.67,384.46 249.00,382.26 253.33,381.65 257.67,380.46 262.00,378.35 266.33,398.44 270.67,393.53 275.00,382.83 279.33,381.30 283.67,382.30 288.00,380.98 292.33,377.78 296.67,398.64 301.00,393.61 305.33,383.23 309.67,381.71 314.00,379.76 318.33,381.21 322.67,378.55 327.00,398.19"/>
<polyline class="l" stroke="#d62728" points="80.00,331.34 84.33,343.29 88.67,349.92 93.00,328.69 97.33,327.36 101.67,330.01 106.00,328.69 110.33,331.34 114.67,345.94 119.00,349.92 123.33,326.03 127.67,323.38 132.00,323.38 136.33,322.72 140.67,323.38 145.00,334.00 149.33,347.27 153.67,324.71 158.00,323.38 162.33,336.65 166.67,322.05 171.00,322.05 175.33,330.01 179.67,345.94 184.00,318.07 188.33,326.03 192.67,345.94 197.00,327.36 201.33,327.36 205.67,330.01 210.00,343.29 214.33,318.07 218.67,322.05 223.00,320.73 227.33,318.07 231.67,320.06 236.00,343.29 240.33,330.01 244.67,318.07 249.00,323.38 253.33,328.02 257.67,318.07 262.00,310.11 266.33,323.38 270.67,343.29 275.00,311.44 279.33,308.12 283.67,318.07 288.00,316.08 292.33,314.75 296.67,335.32 301.00,351.25 305.33,306.13 309.67,316.08 314.00,320.73 318.33,322.05 322.67,323.38 327.00,343.29"/>
<polyline class="l" stroke="#1f77b4" points="80.00,337.13 84.33,374.13 88.67,385.49 93.00,331.38 97.33,324.79 101.67,318.45 106.00,323.22 110.33,329.08 114.67,382.56 119.00,376.85 123.33,334.83 127.67,328.83 132.00,318.68 136.33,326.12 140.67,333.88 145.00,352.85 149.33,360.17 153.67,340.54 158.00,344.87 162.33,359.01 166.67,342.80 171.00,340.53 175.33,361.72 179.67,357.73 184.00,343.98 188.33,346.72 192.67,357.11 197.00,336.18 201.33,338.47 205.67,346.93 210.00,359.57 214.33,336.25 218.67,323.90 223.00,322.93 227.33,325.03 231.67,330.33 236.00,359.58 240.33,354.37 244.67,340.65 249.00,331.56 253.33,327.09 257.67,329.67 262.00,341.10 266.33,355.11 270.67,365.24 275.00,340.79 279.33,333.53 283.67,330.74 288.00,334.12 292.33,344.45 296.67,360.91 301.00,356.18 305.33,337.79 309.67,332.87 314.00,328.37 318.33,331.52 322.67,338.67 327.00,352.11"/>
<polyline class="l" stroke="#ff7f0e" points="80.00,330.01 84.33,344.61 88.67,318.07 93.00,306.13 97.33,302.15 101.67,318.07 106.00,302.15 110.33,324.71 114.67,336.65 119.00,339.97 123.33,320.73 127.67,318.07 132.00,316.75 136.33,324.04 140.67,323.38 145.00,327.36 149.33,347.27 153.67,348.59 158.00,343.95 162.33,339.97 166.67,339.30 171.00,335.32 175.33,338.64 179.67,339.30 184.00,334.66 188.33,339.30 192.67,341.96 197.00,338.64 201.33,335.32 205.67,336.65 210.00,339.97 214.33,335.32 218.67,337.98 223.00,337.31 227.33,336.65 231.67,339.30 236.00,349.92 240.33,345.94 244.67,337.98 249.00,339.97 253.33,343.95 257.67,341.96 262.00,339.30 266.33,349.92 270.67,347.27 275.00,336.65 279.33,334.00 283.67,332.67 288.00,336.65 292.33,339.97 296.67,348.59 301.00,349.92 305.33,341.96 309.67,332.67 314.00,328.02 318.33,322.05 322.67,327.36 327.00,330.01"/>
<polyline class="l" stroke="#d62728" points="80.00,375.81 84.33,381.77 88.67,380.44 93.00,379.41 97.33,375.62 101.67,372.23 106.00,374.58 110.33,378.97 114.67,368.50 119.00,367.83 123.33,367.17 127.67,377.12 132.00,371.70 136.33,372.06 140.67,374.74 145.00,381.10 149.33,372.48 153.67,363.19 158.00,379.51 162.33,376.99 166.67,373.81 171.00,372.48 175.33,369.82 179.67,373.81 184.00,369.03 188.33,365.84 192.67,379.11 197.00,371.15 201.33,368.50 205.67,367.17 210.00,375.13 214.33,366.24 218.67,367.99 223.00,370.32 227.33,361.98 231.67,370.08 236.00,366.62 240.33,370.15 244.67,363.77 249.00,366.69 253.33,365.64 257.67,362.04 262.00,359.28 266.33,369.69 270.67,367.57 275.00,361.96 279.33,366.22 283.67,362.60 288.00,366.63 292.33,362.89 296.67,365.88 301.00,363.93 305.33,362.18 309.67,366.51 314.00,361.34 318.33,366.26 322.67,361.10 327.00,362.50"/>
<polyline class="l" stroke="#17becf" points="80.00,379.90 84.33,389.57 88.67,388.61 93.00,379.62 97.33,380.93 101.67,380.11 106.00,378.46 110.33,380.06 114.67,388.80 119.00,389.06 123.33,380.72 127.67,367.17 132.00,373.81 136.33,378.92 140.67,379.28 145.00,391.17 149.33,389.43 153.67,383.84 158.00,385.53 162.33,387.68 166.67,385.92 171.00,384.82 175.33,391.51 179.67,390.89 184.00,386.01 188.33,386.95 192.67,389.34 197.00,384.61 201.33,383.33 205.67,391.99 210.00,392.41 214.33,384.39 218.67,384.63 223.00,385.57 227.33,383.76 231.67,384.81 236.00,391.34 240.33,392.25 244.67,382.91 249.00,384.87 253.33,382.95 257.67,385.15 262.00,382.70 266.33,391.63 270.67,392.17 275.00,383.94 279.33,383.50 283.67,384.52 288.00,384.14 292.33,383.55 296.67,391.34 301.00,392.70 305.33,383.44 309.67,382.76 314.00,382.86 318.33,382.29 322.67,383.64 327.00,389.84"/>
<polyline class="l" stroke="#e377c2" points="80.00,394.72 84.33,401.19 88.67,401.12 93.00,394.38 97.33,394.73 101.67,395.03 106.00,394.35 110.33,394.60 114.67,401.26 119.00,401.18 123.33,393.49 127.67,393.66 132.00,393.58 136.33,393.41 140.67,393.64 145.00,400.67 149.33,400.90 153.67,394.04 158.00,397.40 162.33,401.81 166.67,396.02 171.00,393.18 175.33,400.75 179.67,400.56 184.00,392.90 188.33,397.65 192.67,401.83 197.00,392.65 201.33,391.97 205.67,400.58 210.00,400.82 214.33,391.50 218.67,391.48 223.00,391.01 227.33,389.68 231.67,390.61 236.00,400.26 240.33,400.43 244.67,391.14 249.00,390.52 253.33,390.69 257.67,388.50 262.00,390.65 266.33,400.31 270.67,400.07 275.00,390.34 279.33,391.17 283.67,389.58 288.00,390.59 292.33,391.23 296.67,400.11 301.00,400.08 305.33,389.95 309.67,389.27 314.00,389.19 318.33,390.32 322.67,391.10 327.00,400.43"/>
</g>
<text x="79" y="407.4" text-anchor="end">0</text>
<text x="79" y="341.2" text-anchor="end">5B</text>
<text x="79" y="275.0" text-anchor="end">10B</text>
<text x="79" y="208.8" text-anchor="end">15B</text>
<text x="79" y="142.6" text-anchor="end">20B</text>
<text x="88.67" y="433" text-anchor="middle">Dec 8</text>
<text x="88.67" y="449" text-anchor="middle">2019</text>
<text x="149.33" y="433" text-anchor="middle">Dec 22</text>
<text x="210.00" y="433" text-anchor="middle">Jan 5</text>
<text x="210.00" y="449" text-anchor="middle">2020</text>
<text x="270.67" y="433" text-anchor="middle">Jan 19</text>
<g clip-path="url(#lg)">
<path d="M337,114.5H367" stroke="#1f77b4" stroke-width="2" fill="none" opacity=".8"/><text x="372" y="118.7"><tspan x="372.0" textLength="95.2" lengthAdjust="spacingAndGlyphs">('FinancialForce',)</tspan></text>
<path d="M337,133.5H367" stroke="#ff7f0e" stroke-width="2" fill="none" opacity=".8"/><text x="372" y="137.7"><tspan x="372.0" textLength="35.0" lengthAdjust="spacingAndGlyphs">('Extra</tspan> <tspan x="410.1" textLength="33.1" lengthAdjust="spacingAndGlyphs">Space</tspan> <tspan x="446.3" textLength="74.3" lengthAdjust="spacingAndGlyphs">Management</tspan> <tspan x="523.7" textLength="28.8" lengthAdjust="spacingAndGlyphs">Inc.',)</tspan></text>
<path d="M337,152.5H367" stroke="#2ca02c" stroke-width="2" fill="none" opacity=".8"/><text x="372" y="156.7"><tspan x="372.0" textLength="33.4" lengthAdjust="spacingAndGlyphs">('Bajaj</tspan> <tspan x="408.5" textLength="40.0" lengthAdjust="spacingAndGlyphs">Finserv</tspan> <tspan x="451.6" textLength="41.8" lengthAdjust="spacingAndGlyphs">Limited</tspan> <tspan x="496.5" textLength="34.7" lengthAdjust="spacingAndGlyphs">(CDPC</tspan> <tspan x="534.3" textLength="33.5" lengthAdjust="spacingAndGlyphs">Org)',)</tspan></text>
<path d="M337,171.5H367" stroke="#d62728" stroke-width="2" fill="none" opacity=".8"/><text x="372" y="175.7"><tspan x="372.0" textLength="34.7" lengthAdjust="spacingAndGlyphs">('State</tspan> <tspan x="409.8" textLength="28.9" lengthAdjust="spacingAndGlyphs">Farm</tspan> <tspan x="441.8" textLength="3.9" lengthAdjust="spacingAndGlyphs">-</tspan> <tspan x="448.8" textLength="14.3" lengthAdjust="spacingAndGlyphs">R1</tspan> <tspan x="466.2" textLength="35.6" lengthAdjust="spacingAndGlyphs">OOB',)</tspan></text>
<path d="M337,190.5H367" stroke="#9467bd" stroke-width="2" fill="none" opacity=".8"/><text x="372" y="194.7"><tspan x="372.0" textLength="62.9" lengthAdjust="spacingAndGlyphs">('DoorDash</tspan> <tspan x="438.0" textLength="28.8" lengthAdjust="spacingAndGlyphs">Inc.',)</tspan></text>
<path d="M337,209.5H367" stroke="#8c564b" stroke-width="2" fill="none" opacity=".8"/><text x="372" y="213.7"><tspan x="372.0" textLength="33.4" lengthAdjust="spacingAndGlyphs">('Bajaj</tspan> <tspan x="408.5" textLength="43.1" lengthAdjust="spacingAndGlyphs">Finance</tspan> <tspan x="454.7" textLength="50.9" lengthAdjust="spacingAndGlyphs">Limited',)</tspan></text>
<path d="M337,228.5H367" stroke="#e377c2" stroke-width="2" fill="none" opacity=".8"/><text x="372" y="232.7"><tspan x="372.0" textLength="28.3" lengthAdjust="spacingAndGlyphs">('AXA</tspan> <tspan x="403.4" textLength="37.6" lengthAdjust="spacingAndGlyphs">France</tspan> <tspan x="444.1" textLength="27.9" lengthAdjust="spacingAndGlyphs">GIE',)</tspan></text>
<path d="M337,247.5H367" stroke="#7f7f7f" stroke-width="2" fill="none" opacity=".8"/><text x="372" y="251.7"><tspan x="372.0" textLength="90.1" lengthAdjust="spacingAndGlyphs">('salesforce.com</tspan> <tspan x="465.2" textLength="3.9" lengthAdjust="spacingAndGlyphs">-</tspan> <tspan x="472.2" textLength="13.7" lengthAdjust="spacingAndGlyphs">62</tspan> <tspan x="489.0" textLength="27.9" lengthAdjust="spacingAndGlyphs">org',)</tspan></text>
<path d="M337,266.5H367" stroke="#bcbd22" stroke-width="2" fill="none" opacity=".8"/><text x="372" y="270.7"><tspan x="372.0" textLength="43.7" lengthAdjust="spacingAndGlyphs">('United</tspan> <tspan x="418.8" textLength="32.8" lengthAdjust="spacingAndGlyphs">Shore</tspan> <tspan x="454.7" textLength="49.1" lengthAdjust="spacingAndGlyphs">Financial</tspan> <tspan x="506.9" textLength="45.4" lengthAdjust="spacingAndGlyphs">Services</tspan> <tspan x="555.5" textLength="29.2" lengthAdjust="spacingAndGlyphs">LLC',)</tspan></text>
<path d="M337,285.5H367" stroke="#17becf" stroke-width="2" fill="none" opacity=".8"/><text x="372" y="289.7"><tspan x="372.0" textLength="54.3" lengthAdjust="spacingAndGlyphs">('Humana</tspan> <tspan x="429.4" textLength="25.6" lengthAdjust="spacingAndGlyphs">Inc',)</tspan></text>
<path d="M337,304.5H367" stroke="#1f77b4" stroke-width="2" fill="none" opacity=".8"/><text x="372" y="308.7"><tspan x="372.0" textLength="37.0" lengthAdjust="spacingAndGlyphs">('Vivint</tspan> <tspan x="412.1" textLength="19.6" lengthAdjust="spacingAndGlyphs">Inc.</tspan> <tspan x="434.9" textLength="31.5" lengthAdjust="spacingAndGlyphs">(Main</tspan> <tspan x="469.5" textLength="33.5" lengthAdjust="spacingAndGlyphs">Org)',)</tspan></text>
<path d="M337,323.5H367" stroke="#ff7f0e" stroke-width="2" fill="none" opacity=".8"/><text x="372" y="327.7"><tspan x="372.0" textLength="35.5" lengthAdjust="spacingAndGlyphs">('Cisco</tspan> <tspan x="410.6" textLength="3.9" lengthAdjust="spacingAndGlyphs">-</tspan> <tspan x="417.6" textLength="46.7" lengthAdjust="spacingAndGlyphs">CSOne',)</tspan></text>
<path d="M337,342.5H367" stroke="#2ca02c" stroke-width="2" fill="none" opacity=".8"/><text x="372" y="346.7"><tspan x="372.0" textLength="34.8" lengthAdjust="spacingAndGlyphs">('ENEL</tspan> <tspan x="409.9" textLength="23.3" lengthAdjust="spacingAndGlyphs">Italy</tspan> <tspan x="436.4" textLength="24.6" lengthAdjust="spacingAndGlyphs">Free</tspan> <tspan x="464.1" textLength="48.8" lengthAdjust="spacingAndGlyphs">Market',)</tspan></text>
<path d="M337,361.5H367" stroke="#d62728" stroke-width="2" fill="none" opacity=".8"/><text x="372" y="365.7"><tspan x="372.0" textLength="32.1" lengthAdjust="spacingAndGlyphs">('IDFC</tspan> <tspan x="407.2" textLength="24.1" lengthAdjust="spacingAndGlyphs">First</tspan> <tspan x="434.4" textLength="28.1" lengthAdjust="spacingAndGlyphs">Bank</tspan> <tspan x="465.6" textLength="50.9" lengthAdjust="spacingAndGlyphs">Limited',)</tspan></text>
<path d="M337,380.5H367" stroke="#9467bd" stroke-width="2" fill="none" opacity=".8"/><text x="372" y="384.7"><tspan x="372.0" textLength="49.4" lengthAdjust="spacingAndGlyphs">('Hewlett</tspan> <tspan x="424.5" textLength="44.8" lengthAdjust="spacingAndGlyphs">Packard</tspan> <tspan x="472.4" textLength="57.7" lengthAdjust="spacingAndGlyphs">Enterprise</tspan> <tspan x="533.2" textLength="62.5" lengthAdjust="spacingAndGlyphs">Company',)</tspan></text>
<path d="M337,399.5H367" stroke="#8c564b" stroke-width="2" fill="none" opacity=".8"/><text x="372" y="403.7"><tspan x="372.0" textLength="27.8" lengthAdjust="spacingAndGlyphs">('Dell</tspan> <tspan x="402.9" textLength="3.9" lengthAdjust="spacingAndGlyphs">-</tspan> <tspan x="409.9" textLength="48.9" lengthAdjust="spacingAndGlyphs">Service',)</tspan></text>
<path d="M337,418.5H367" stroke="#e377c2" stroke-width="2" fill="none" opacity=".8"/><text x="372" y="422.7"><tspan x="372.0" textLength="48.2" lengthAdjust="spacingAndGlyphs">('Shopee</tspan> <tspan x="423.3" textLength="56.5" lengthAdjust="spacingAndGlyphs">Singapore</tspan> <tspan x="482.9" textLength="38.8" lengthAdjust="spacingAndGlyphs">Private</tspan> <tspan x="524.9" textLength="50.9" lengthAdjust="spacingAndGlyphs">Limited',)</tspan></text>
</g>
</svg>
</body></html>
